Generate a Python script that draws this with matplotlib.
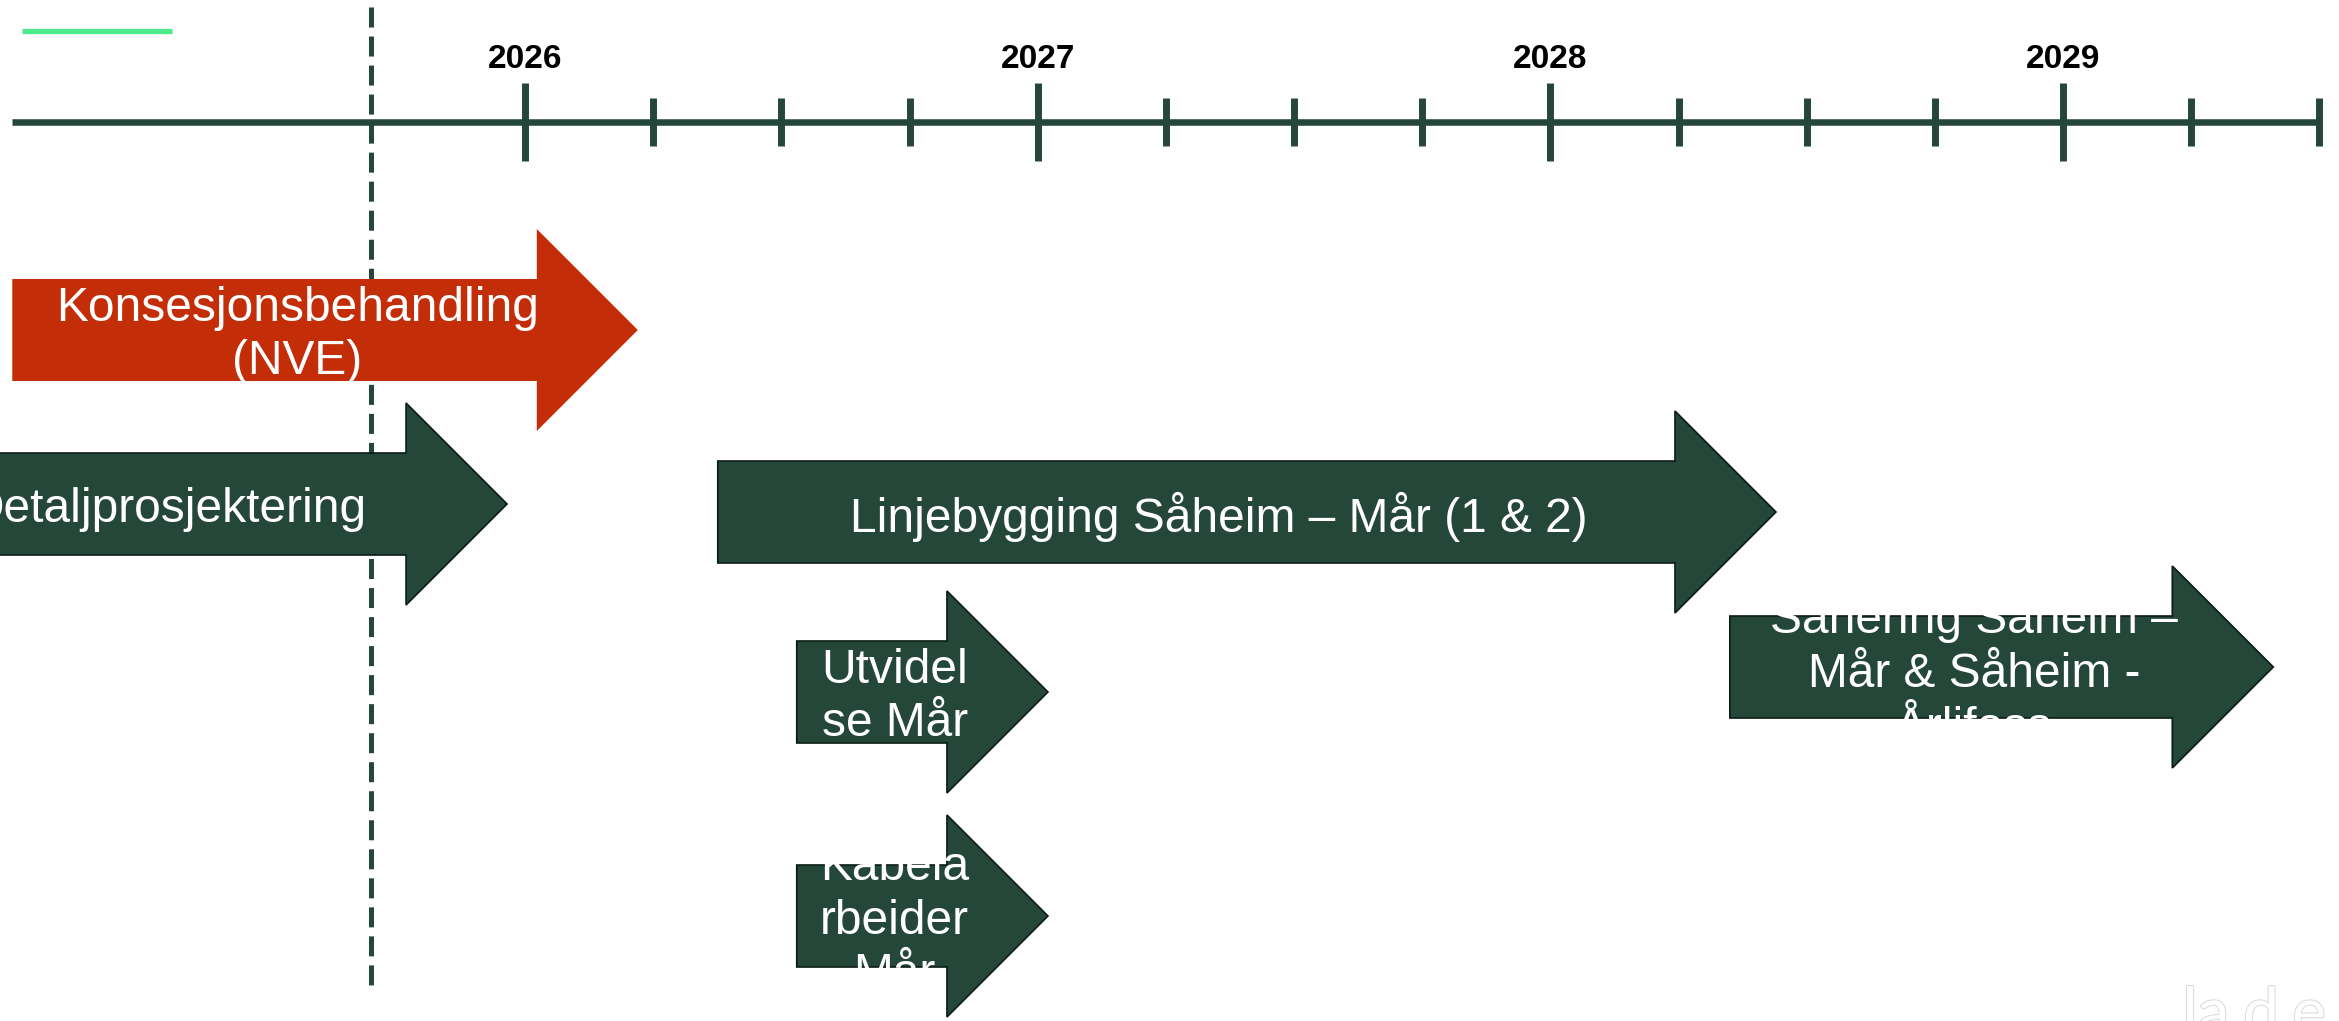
import matplotlib
matplotlib.use('Agg')
import matplotlib.pyplot as plt
import matplotlib.patheffects as pe
from matplotlib.patches import Polygon

plt.rcParams['font.family'] = ['Liberation Sans', 'DejaVu Sans']
plt.rcParams['lines.scale_dashes'] = False

# timeline data (years)
years = [2026, 2027, 2028, 2029]
quarters = [2026.25, 2026.5, 2026.75, 2027.25, 2027.5, 2027.75,
            2028.25, 2028.5, 2028.75, 2029.25, 2029.5]
axis_start, axis_end = 2025.0, 2029.5
today = 2025.70

# activities
labels = ['Konsesjonsbehandling\n(NVE)',
          'Detaljprosjektering',
          'Linjebygging Såheim – Mår (1 & 2)',
          'Utvidel\nse Mår',
          'Kabela\nrbeider\nMår',
          'Sanering Såheim –\nMår & Såheim -\nÅrlifoss']
starts = [2025.0, 2024.75, 2026.376, 2026.53, 2026.53, 2028.35]
ends = [2026.22, 2025.965, 2028.44, 2027.02, 2027.02, 2029.41]
rows = [330, 504, 512, 692, 916, 667]
colors = ['#c32d07', '#25473a', '#25473a', '#25473a', '#25473a', '#25473a']

dark = '#25473a'
W, H = 2339, 1021
px_per_year = 512.7
x_2026 = 525

fig = plt.figure(figsize=(W / 100, H / 100), dpi=100)
ax = fig.add_axes([0, 0, 1, 1])
ax.set_xlim(2026 - x_2026 / px_per_year, 2026 + (W - x_2026) / px_per_year)
ax.set_ylim(H, 0)
ax.axis('off')

# today marker
ax.plot([today, today], [7, 985], color=dark, lw=3.6,
        linestyle=(0, (14.4, 6.5)), zorder=1)

# main axis line with ticks
line_y = 122
ax.plot([axis_start, axis_end], [line_y, line_y], color=dark, lw=4.7,
        solid_capstyle='butt', zorder=2)
ax.vlines(years, line_y - 39, line_y + 39, color=dark, lw=5, zorder=2)
ax.vlines(quarters, line_y - 24, line_y + 24, color=dark, lw=5, zorder=2)
for yr in years:
    ax.text(yr, 60, str(yr), ha='center', va='center', fontsize=24,
            fontweight='bold', color='black')

# arrows
hb, hh, hl_px = 51, 101, 101
hl = hl_px / px_per_year
for lab, s, e, c, col in zip(labels, starts, ends, rows, colors):
    pts = [(s, c - hb), (e - hl, c - hb), (e - hl, c - hh), (e, c),
           (e - hl, c + hh), (e - hl, c + hb), (s, c + hb)]
    edge = 'none' if col == '#c32d07' else '#0c1c15'
    poly = Polygon(pts, closed=True, facecolor=col, edgecolor=edge,
                   lw=1.2, zorder=3)
    ax.add_patch(poly)
    tx = (s + (e - hl) + 0.45 * hl) / 2
    t = ax.text(tx, c + 5, lab, ha='center', va='center', color='white',
                fontsize=34.5, linespacing=1.25, multialignment='center',
                zorder=4)
    t.set_clip_path(poly)

# small legend stroke top left
ax.plot([0.0094, 0.0735], [0.9695, 0.9695], transform=ax.transAxes,
        color='#4deb8b', lw=3.8, solid_capstyle='butt')

# faint logo, mostly cut off
for i, ch in enumerate('lade'):
    ax.text(0.933 + [0, 0.0065, 0.026, 0.047][i], -0.012, ch,
            transform=ax.transAxes, fontsize=46, family='Lato',
            color='white', clip_on=False,
            path_effects=[pe.withStroke(linewidth=1.6, foreground='#d8dfdc')])

fig.savefig('out.png', dpi=100)
